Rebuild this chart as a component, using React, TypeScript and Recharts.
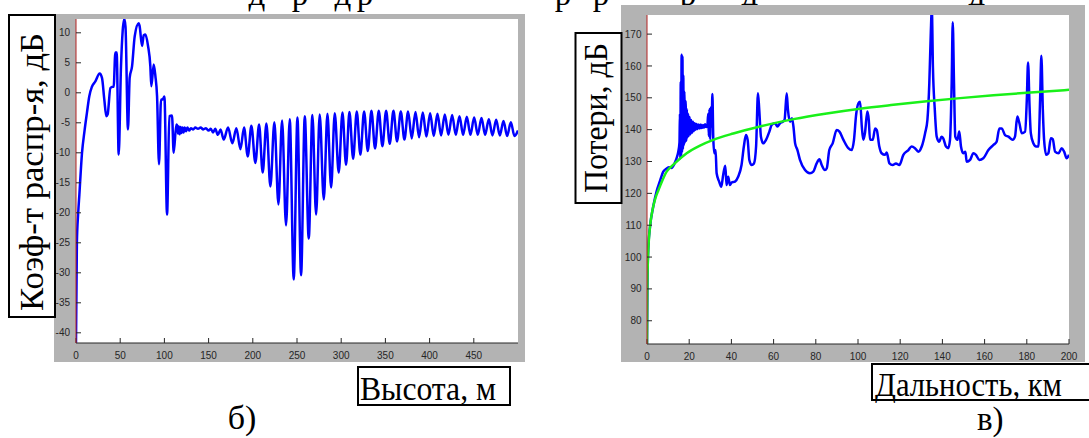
import { LineChart, Line, XAxis, YAxis, CartesianGrid } from "recharts";

// б) coefficient vs height
const heightEarly = [
  0, 1, 2.5, 3.8, 6.8, 9.5, 12.4, 15, 18, 21.9, 26.8, 29.4, 32, 34.3, 35.8, 38.9,
  41.5, 42.6, 44.5, 46, 48.3, 50.9, 54.7, 56, 58.8, 60.7, 63.4, 66.4, 70.9, 72,
  74.7, 76.6, 78.5, 81.5, 84.1, 85.2, 87.9, 89.8, 91.7, 93.9, 96.2, 98.1, 100,
  103, 105.6, 108.6, 110.5, 113.5,
];
const coefEarly = [
  -41.7, -25, -20, -17, -10, -6.5, -3.3, -0.6, 1, 1.9, 3.2, 2.5, -1.1, -3.9, -3.6, 0.8,
  1, 1, 6.7, 6.7, -10.3, 4.4, 12.3, 11, -6.1, 2.5, 4.4, 9.4, 11.6, 11.1,
  7.8, 9.6, 9.7, 7.8, 4.4, 1.1, 4.7, 2.8, -0.6, -11.9, -1.1, -1.1, -0.6,
  -20.3, -3.9, -3.8, -10, -5.3,
];
const heightFlat = [
  114.6, 115.4, 116.3, 117.3, 118.3, 119.3, 120.5, 121.7, 123, 124.5, 126, 128,
  130, 132.5, 135, 138, 141, 144, 147, 150, 152.5, 155, 157.5, 160.5, 163.5,
];
const coefFlat = [
  -5.5, -6.8, -5.6, -6.9, -5.7, -6.7, -5.8, -6.6, -5.8, -6.4, -5.8, -6.3,
  -5.9, -6.1, -5.8, -6.0, -5.8, -6.1, -5.9, -6.3, -6.0, -6.6, -6.0, -7.0, -6.1,
];
const heightSwing = [
  167.1, 172.0, 176.9, 181.4, 186.0, 190.1, 194.3, 198.4, 202.9, 207.1,
  211.2, 215.4, 219.9, 224.4, 229.0, 233.1, 237.6, 241.8, 246.3, 250.5,
  254.6, 258.8, 263.3, 267.4, 271.6, 275.7, 280.3, 284.4, 288.6, 292.7,
  297.2, 301.4, 305.5, 309.3, 313.5, 317.6, 321.7, 325.9, 330.1, 334.2,
  338.3, 342.5, 346.6, 350.8, 354.9, 359.1, 363.2, 367.4, 371.5, 375.7,
  379.8, 384.0, 388.1, 392.3, 396.4, 400.6, 404.7, 408.9, 413.0, 417.2,
  421.3, 425.5, 429.6, 433.8, 437.9, 442.1, 446.2, 450.4, 454.5, 458.7,
  462.8, 467.0, 471.1, 475.3, 479.4, 483.6, 487.7, 491.9, 496.0, 500,
];
const coefSwing = [
  -7.8, -5.8, -8.4, -5.9, -9.4, -5.8, -10.6, -5.5, -11.7, -5.3,
  -13.3, -5.1, -15.6, -4.9, -18.6, -4.6, -22.1, -4.4, -31.1, -4.1,
  -30.4, -3.9, -24.3, -3.7, -20.3, -3.6, -17.8, -3.5, -15.8, -3.4,
  -13.3, -3.3, -12.0, -3.2, -11.0, -3.1, -10.3, -3.1, -9.7, -3.0,
  -9.3, -3.0, -8.9, -3.0, -8.5, -3.0, -8.1, -3.1, -7.8, -3.1,
  -7.6, -3.2, -7.4, -3.3, -7.3, -3.4, -7.2, -3.5, -7.1, -3.6,
  -7.0, -3.7, -7.0, -3.9, -7.0, -4.0, -7.0, -4.1, -7.0, -4.2,
  -7.0, -4.4, -7.1, -4.5, -7.1, -4.7, -7.2, -4.9, -7.2, -6.3,
];
const heightTicks = [0, 50, 100, 150, 200, 250, 300, 350, 400, 450];
const coefTicks = [-40, -35, -30, -25, -20, -15, -10, -5, 0, 5, 10];

// в) losses vs range
const rangeKm = [
  0, 0.2, 0.63, 1.42, 3.0, 4.5, 6.2, 7.7, 9.3, 10.5,
  11.7, 12.6, 13.3, 14.0, 14.8, 15.4, 15.6, 15.8, 16.0, 16.2,
  16.4, 16.6, 16.8, 17.0, 17.2, 17.4, 17.7, 18.0, 18.3, 18.6,
  18.9, 19.2, 19.5, 19.8, 20.2, 20.6, 21.0, 21.4, 21.8, 22.2,
  22.6, 23.0, 23.5, 24.0, 24.5, 25.0, 25.5, 26.0, 26.5, 27.0,
  27.5, 28.0, 28.6, 29.0, 29.3, 29.6, 29.9, 30.3, 30.6, 31.0,
  31.4, 31.9, 32.5, 33.0, 34.2, 35.2, 36.1, 37.1, 37.7, 38.5,
  39.3, 40.1, 41.7, 43.2, 44.8, 45.9, 46.9, 47.7, 48.5, 49.6,
  50.7, 51.7, 52.6, 53.2, 54.0, 55.1, 56.4, 58.0, 59.1, 60.7,
  61.8, 63.0, 64.3, 65.2, 66.2, 66.8, 67.8, 68.7, 69.4, 70.2,
  71.3, 72.5, 74.9, 77.2, 78.8, 80.4, 81.7, 82.8, 84.3, 85.2,
  86.4, 88.0, 89.9, 91.2, 93.1, 95.4, 97.0, 98.1, 99.1, 100.2,
  101.0, 101.8, 102.5, 103.3, 104.4, 105.1, 105.7, 107.0, 108.1, 108.9,
  110.1, 111.2, 112.8, 113.6, 114.9, 116.4, 118.0, 119.6, 121.5, 123.9,
  125.4, 127.0, 128.6, 130.2, 131.8, 132.9, 133.8, 134.5, 135.0, 135.5,
  136.4, 137.3, 138.5, 139.6, 140.4, 141.7, 142.8, 143.6, 144.4, 144.9,
  145.5, 146.1, 147.1, 148.0, 148.8, 149.9, 150.9, 151.5, 153.1, 154.7,
  155.9, 157.5, 159.4, 161.8, 164.2, 165.7, 167.0, 168.1, 169.7, 171.3,
  173.3, 174.4, 175.5, 176.5, 177.6, 179.2, 180.0, 180.6, 181.3, 181.9,
  183.1, 184.4, 185.5, 186.3, 186.9, 187.6, 188.2, 189.2, 190.2, 191.4,
  192.3, 193.4, 195.0, 196.6, 197.7, 198.9, 200,
];
const lossDb = [
  72.7, 92, 103, 109.5, 116, 120.5, 124, 126.8, 127.8, 128.2,
  128.0, 128.8, 129.8, 131, 133, 136, 145, 131, 155, 132,
  163.5, 133, 163, 134, 157, 135, 152, 136, 149, 136.5,
  146.5, 137.5, 145, 138, 144, 138.5, 143, 139, 142.5, 139.5,
  142, 140, 141.8, 140.2, 141.6, 140.4, 141.6, 140.5, 141.5, 140.6,
  141.7, 140.8, 141, 145, 138, 146.5, 137, 147, 141, 151.2,
  137.5, 132.6, 133.6, 126.3, 123.7, 122.1, 125.8, 128.7, 122.6, 125.2,
  122.6, 123.4, 123.7, 125.2, 128.9, 134.7, 138.3, 136.8, 130.5, 128.9,
  129.4, 134.7, 151.4, 146.2, 137.8, 135.7, 136.8, 139.4, 141.5, 142,
  141, 142, 142.5, 143.1, 151.4, 146.2, 142.5, 143.6, 141, 135.7,
  133.6, 130.5, 127.3, 126.3, 126.8, 129.4, 130.7, 128.9, 127.3, 127.9,
  133.6, 135.7, 139.9, 139.4, 136.8, 134.2, 133.6, 136.8, 144.6, 148.3,
  148.8, 141, 136.8, 138.9, 145.7, 143.1, 136.8, 136.8, 140.4, 139.9,
  134.7, 132.6, 132.1, 132.8, 129.4, 128.9, 129.4, 128.9, 132.1, 133.6,
  134.7, 134.2, 133.1, 134.7, 138.9, 143.1, 154.6, 170.3, 178, 159.8,
  146.2, 137.8, 136.2, 137.8, 137.3, 134.7, 134.2, 136.8, 154.6, 173.7,
  154.6, 137.8, 136.8, 139.4, 134.7, 132.6, 133.1, 129.9, 130.5, 132.6,
  132.1, 130.5, 131, 133.6, 135.2, 136.2, 140.4, 140.4, 138.3, 137.8,
  136.8, 137.8, 144.1, 142, 138.9, 139.4, 149.3, 161.1, 147.3, 138.9,
  135.7, 134.7, 134.7, 149.3, 163.2, 146.2, 136.8, 132.1, 132.6, 137.3,
  137, 133.1, 132.6, 134.2, 133.1, 131, 132.1,
];
const freeRangeKm = [
  0, 0.1, 0.2, 0.4, 0.63, 1.0, 1.42, 2.0, 3.0, 4.0, 5.4, 6.2, 9.3, 12.5,
  18.8, 25.1, 31.4, 40.9, 53.6, 69.4, 85.2, 101, 116.8, 132.6, 148.4, 164.2, 180, 200,
];
const freeLossDb = [
  72.7, 86.5, 92.5, 98.5, 102.5, 106.5, 109.5, 112.5, 116, 118.5, 121, 122.3, 126.8, 129,
  132.6, 135, 136.8, 138.8, 141, 143.3, 145.1, 146.6, 147.8, 148.9, 149.9, 150.8, 151.6, 152.5,
];
const rangeTicks = [0, 20, 40, 60, 80, 100, 120, 140, 160, 180, 200];
const lossTicks = [80, 90, 100, 110, 120, 130, 140, 150, 160, 170];

const coefData = [
  ...heightEarly.map((h, i) => ({ h, k: coefEarly[i] })),
  ...heightFlat.map((h, i) => ({ h, k: coefFlat[i] })),
  ...heightSwing.map((h, i) => ({ h, k: coefSwing[i] })),
];
const lossData = rangeKm.map((r, i) => ({ r, v: lossDb[i] }));
const freeData = freeRangeKm.map((r, i) => ({ r, v: freeLossDb[i] }));

const tickFont = {
  fontSize: 10,
  fill: "#262626",
  fontFamily: "Liberation Sans, Arial, sans-serif",
};
const dark = { stroke: "#262626" };
const red = { stroke: "#b22222" };
const serif = "Liberation Serif, Times New Roman, serif";
const FRAME = "#b3b3b3";

function Frame(props: { left: number; top: number; children: any }) {
  return (
    <div
      style={{
        position: "absolute",
        left: props.left,
        top: props.top,
        background: FRAME,
      }}
    >
      {props.children}
    </div>
  );
}

export default function App() {
  return (
    <div
      style={{
        position: "absolute",
        left: 0,
        top: 0,
        width: 1089,
        height: 438,
        overflow: "hidden",
        background: "#fff",
      }}
    >
      {/* caption line above, mostly cut off */}
      <svg width={1089} height={438} style={{ position: "absolute", left: 0, top: 0 }}>
        <g fontFamily={serif} fontSize={33} fill="#000" textAnchor="middle">
          <text x={257} y={5}>д</text>
          <text x={300} y={5}>р</text>
          <text x={343} y={5}>д</text>
          <text x={365} y={5}>р</text>
          <text x={563} y={5}>р</text>
          <text x={601} y={5}>р</text>
          <text x={688} y={5}>р</text>
          <text x={750} y={5}>д</text>
          <text x={977} y={5}>д</text>
        </g>
      </svg>

      <Frame left={54} top={14}>
        <LineChart
          width={471}
          height={348}
          data={coefData}
          margin={{ top: 5, right: 7, left: 0, bottom: 0 }}
        >
          <CartesianGrid horizontal={false} vertical={false} fill="#fff" />
          <XAxis
            dataKey="h"
            type="number"
            domain={[0, 500]}
            ticks={heightTicks}
            interval={0}
            height={19}
            tickSize={-5}
            tickMargin={14}
            axisLine={dark}
            tickLine={dark}
            tick={tickFont}
            allowDataOverflow
          />
          <XAxis
            xAxisId="top"
            orientation="top"
            dataKey="h"
            type="number"
            domain={[0, 500]}
            ticks={heightTicks}
            interval={0}
            height={0}
            tickSize={-5}
            tickFormatter={() => ""}
            axisLine={dark}
            tickLine={dark}
            allowDataOverflow
          />
          <YAxis
            type="number"
            domain={[-41.7, 12.3]}
            ticks={coefTicks}
            interval={0}
            width={22}
            tickSize={-5}
            tickMargin={11}
            axisLine={red}
            tickLine={dark}
            tick={tickFont}
            allowDataOverflow
          />
          <YAxis
            yAxisId="right"
            orientation="right"
            type="number"
            domain={[-41.7, 12.3]}
            ticks={coefTicks}
            interval={0}
            width={0}
            tickSize={-5}
            tickFormatter={() => ""}
            axisLine={dark}
            tickLine={dark}
            allowDataOverflow
          />
          <Line
            type="monotone"
            dataKey="k"
            stroke="#0000ff"
            strokeWidth={2.5}
            dot={false}
            isAnimationActive={false}
          />
        </LineChart>
      </Frame>

      <Frame left={621} top={5}>
        <LineChart
          width={464}
          height={357}
          margin={{ top: 10, right: 16, left: 0, bottom: 0 }}
        >
          <CartesianGrid horizontal={false} vertical={false} fill="#fff" />
          <XAxis
            dataKey="r"
            type="number"
            domain={[0, 200]}
            ticks={rangeTicks}
            interval={0}
            height={18}
            tickSize={-5}
            tickMargin={14}
            axisLine={dark}
            tickLine={dark}
            tick={tickFont}
            allowDataOverflow
          />
          <XAxis
            xAxisId="top"
            orientation="top"
            dataKey="r"
            type="number"
            domain={[0, 200]}
            ticks={rangeTicks}
            interval={0}
            height={0}
            tickSize={-5}
            tickFormatter={() => ""}
            axisLine={dark}
            tickLine={dark}
            allowDataOverflow
          />
          <YAxis
            type="number"
            domain={[72.7, 176]}
            ticks={lossTicks}
            interval={0}
            width={26}
            tickSize={-5}
            tickMargin={10.5}
            axisLine={red}
            tickLine={dark}
            tick={tickFont}
            allowDataOverflow
          />
          <YAxis
            yAxisId="right"
            orientation="right"
            type="number"
            domain={[72.7, 176]}
            ticks={lossTicks}
            interval={0}
            width={0}
            tickSize={-5}
            tickFormatter={() => ""}
            axisLine={dark}
            tickLine={dark}
            allowDataOverflow
          />
          <Line
            data={lossData}
            type="monotone"
            dataKey="v"
            stroke="#0000ff"
            strokeWidth={2.5}
            dot={false}
            isAnimationActive={false}
          />
          <Line
            data={freeData}
            type="monotone"
            dataKey="v"
            stroke="#19f019"
            strokeWidth={2.5}
            dot={false}
            isAnimationActive={false}
          />
        </LineChart>
      </Frame>

      {/* boxed axis titles and panel letters */}
      <svg
        width={1089}
        height={438}
        style={{ position: "absolute", left: 0, top: 0, pointerEvents: "none" }}
      >
        <g fontFamily={serif} fill="#000">
          <rect x={9} y={15} width={46} height={302} fill="#fff" stroke="#000" strokeWidth={2} />
          <text
            transform="translate(43,172) rotate(-90)"
            textAnchor="middle"
            fontSize={34}
            textLength={278}
            lengthAdjust="spacingAndGlyphs"
          >
            Коэф-т распр-я, дБ
          </text>

          <rect x={575.5} y={33} width={46} height={170} fill="#fff" stroke="#000" strokeWidth={2} />
          <text
            transform="translate(607,118) rotate(-90)"
            textAnchor="middle"
            fontSize={34}
            textLength={150}
            lengthAdjust="spacingAndGlyphs"
          >
            Потери, дБ
          </text>

          <rect x={358} y={367} width={152} height={38} fill="#fff" stroke="#000" strokeWidth={2} />
          <text x={360} y={400} fontSize={34} textLength={136} lengthAdjust="spacingAndGlyphs">
            Высота, м
          </text>

          <rect x={872} y={364} width={230} height={36} fill="#fff" stroke="#000" strokeWidth={2} />
          <text x={875} y={396} fontSize={34} textLength={187} lengthAdjust="spacingAndGlyphs">
            Дальность, км
          </text>

          <text x={242} y={429} fontSize={34} textAnchor="middle">
            б)
          </text>
          <text x={977} y={430} fontSize={33}>
            в)
          </text>
        </g>
      </svg>
    </div>
  );
}
